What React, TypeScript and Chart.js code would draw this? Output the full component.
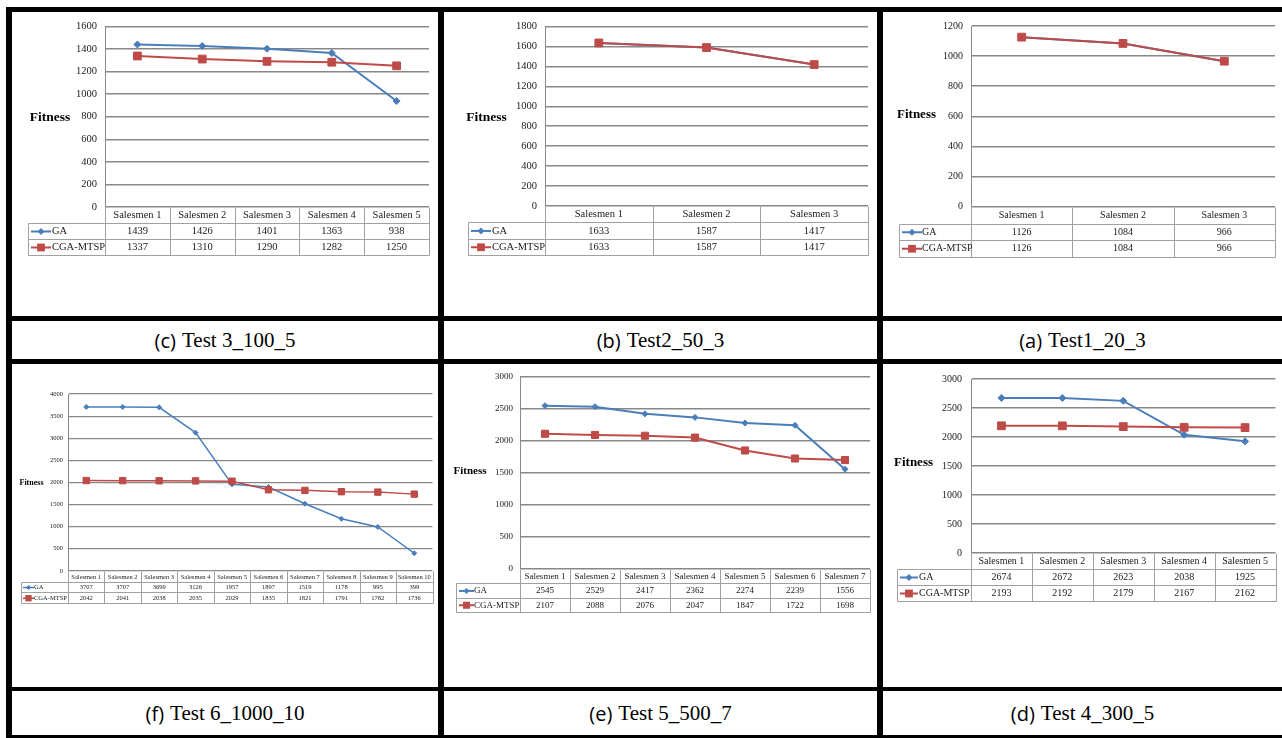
import React, { useEffect, useRef } from 'react';
import { Chart, registerables } from 'chart.js';

Chart.register(...registerables);

// ---------------- DATA ----------------
const seriesNames = ['GA', 'CGA-MTSP'];

// (c) Test 3_100_5
const catsC = ['Salesmen 1', 'Salesmen 2', 'Salesmen 3', 'Salesmen 4', 'Salesmen 5'];
const gaC = [1439, 1426, 1401, 1363, 938];
const cgaC = [1337, 1310, 1290, 1282, 1250];
const yMaxC = 1600;
const yStepC = 200;

// (b) Test2_50_3
const catsB = ['Salesmen 1', 'Salesmen 2', 'Salesmen 3'];
const gaB = [1633, 1587, 1417];
const cgaB = [1633, 1587, 1417];
const yMaxB = 1800;
const yStepB = 200;

// (a) Test1_20_3
const catsA = ['Salesmen 1', 'Salesmen 2', 'Salesmen 3'];
const gaA = [1126, 1084, 966];
const cgaA = [1126, 1084, 966];
const yMaxA = 1200;
const yStepA = 200;

// (f) Test 6_1000_10
const catsF = ['Salesmen 1', 'Salesmen 2', 'Salesmen 3', 'Salesmen 4', 'Salesmen 5', 'Salesmen 6', 'Salesmen 7', 'Salesmen 8', 'Salesmen 9', 'Salesmen 10'];
const gaF = [3707, 3707, 3699, 3126, 1957, 1897, 1519, 1178, 995, 399];
const cgaF = [2042, 2041, 2038, 2035, 2029, 1835, 1821, 1791, 1782, 1736];
const yMaxF = 4000;
const yStepF = 500;

// (e) Test 5_500_7
const catsE = ['Salesmen 1', 'Salesmen 2', 'Salesmen 3', 'Salesmen 4', 'Salesmen 5', 'Salesmen 6', 'Salesmen 7'];
const gaE = [2545, 2529, 2417, 2362, 2274, 2239, 1556];
const cgaE = [2107, 2088, 2076, 2047, 1847, 1722, 1698];
const yMaxE = 3000;
const yStepE = 500;

// (d) Test 4_300_5
const catsD = ['Salesmen 1', 'Salesmen 2', 'Salesmen 3', 'Salesmen 4', 'Salesmen 5'];
const gaD = [2674, 2672, 2623, 2038, 1925];
const cgaD = [2193, 2192, 2179, 2167, 2162];
const yMaxD = 3000;
const yStepD = 500;

const captions = {
  c: ['(c)', 'Test 3_100_5'],
  b: ['(b)', 'Test2_50_3'],
  a: ['(a)', 'Test1_20_3'],
  f: ['(f)', 'Test 6_1000_10'],
  e: ['(e)', 'Test 5_500_7'],
  d: ['(d)', 'Test 4_300_5'],
};

// ---------------- STYLE ----------------
const BLUE = '#4a7ebb';
const RED = '#be4b48';
const GRID = '#888888';
const TABLE_LINE = '#a0a0a0';
const TEXT = '#1a1a1a';
const SERIF = '"Liberation Serif", serif';

function drawMarker(ctx, style, x, y, r, color) {
  ctx.save();
  ctx.fillStyle = color;
  ctx.beginPath();
  if (style === 'rectRot') {
    ctx.moveTo(x - r, y);
    ctx.lineTo(x, y - r);
    ctx.lineTo(x + r, y);
    ctx.lineTo(x, y + r);
    ctx.closePath();
  } else {
    const s = Math.SQRT1_2 * r;
    ctx.rect(x - s, y - s, 2 * s, 2 * s);
  }
  ctx.fill();
  ctx.restore();
}

const tablePlugin = {
  id: 'dataTable',
  afterDraw(chart, _args, opts) {
    const { ctx, chartArea } = chart;
    const xs = chart.scales.x;
    const labels = chart.data.labels;
    const n = labels.length;
    const left = chartArea.left;
    const right = chartArea.right;
    const h = opts.rowH;
    const y0 = Math.round(chartArea.bottom);
    const L = opts.legendLeft;
    const bounds = [left];
    for (let i = 1; i < n; i++) {
      bounds.push((xs.getPixelForValue(i - 1) + xs.getPixelForValue(i)) / 2);
    }
    bounds.push(right);

    ctx.save();
    ctx.strokeStyle = TABLE_LINE;
    ctx.lineWidth = 1;
    const line = (x1, y1, x2, y2) => {
      ctx.beginPath();
      ctx.moveTo(Math.round(x1) + 0.5, Math.round(y1) + 0.5);
      ctx.lineTo(Math.round(x2) + 0.5, Math.round(y2) + 0.5);
      ctx.stroke();
    };
    for (let k = 1; k <= 3; k++) line(L, y0 + k * h, right, y0 + k * h);
    line(L, y0 + h, L, y0 + 3 * h);
    bounds.forEach((b) => line(b, y0, b, y0 + 3 * h));

    ctx.fillStyle = TEXT;
    ctx.font = `${opts.fontSize}px ${SERIF}`;
    ctx.textAlign = 'center';
    ctx.textBaseline = 'middle';
    for (let i = 0; i < n; i++) {
      const cx = xs.getPixelForValue(i);
      ctx.fillText(String(labels[i]), cx, y0 + h / 2 + 0.5);
    }
    const rows = opts.rowOrder;
    rows.forEach((di, r) => {
      const ds = chart.data.datasets[di];
      const cy = y0 + (r + 1) * h + h / 2 + 0.5;
      ctx.fillStyle = TEXT;
      ctx.textAlign = 'center';
      for (let i = 0; i < n; i++) {
        ctx.fillText(String(ds.data[i]), xs.getPixelForValue(i), cy);
      }
      const ix0 = L + opts.iconX;
      const ix1 = ix0 + opts.iconLen;
      ctx.strokeStyle = ds.borderColor;
      ctx.lineWidth = ds.borderWidth;
      ctx.beginPath();
      ctx.moveTo(ix0, cy);
      ctx.lineTo(ix1, cy);
      ctx.stroke();
      drawMarker(ctx, ds.pointStyle, (ix0 + ix1) / 2, cy, ds.pointRadius, ds.borderColor);
      ctx.fillStyle = TEXT;
      ctx.textAlign = 'left';
      ctx.fillText(ds.label, L + opts.textX, cy);
    });

    ctx.font = `bold ${opts.titleSize}px ${SERIF}`;
    ctx.textAlign = 'center';
    ctx.textBaseline = 'middle';
    ctx.fillStyle = '#000';
    ctx.fillText('Fitness', opts.titleX, opts.titleY);
    ctx.restore();
  },
};

type Cfg = {
  cats: string[];
  ga: number[];
  cga: number[];
  yMax: number;
  yStep: number;
  w: number;
  h: number;
  axisW: number;
  tickPad: number;
  padR: number;
  padT: number;
  padB: number;
  rowH: number;
  legendLeft: number;
  iconX: number;
  iconLen: number;
  textX: number;
  titleX: number;
  titleY: number;
  titleSize: number;
  fontSize: number;
  tickSize: number;
  lineW: number;
  gridW: number;
  rGA: number;
  rCGA: number;
};

function LineTableChart({ cfg }: { cfg: Cfg }) {
  const ref = useRef<HTMLCanvasElement>(null);
  useEffect(() => {
    const chart = new Chart(ref.current, {
      type: 'line',
      data: {
        labels: cfg.cats,
        datasets: [
          {
            label: seriesNames[0],
            data: cfg.ga,
            borderColor: BLUE,
            backgroundColor: BLUE,
            pointBackgroundColor: BLUE,
            pointBorderColor: BLUE,
            borderWidth: cfg.lineW,
            pointStyle: 'rectRot',
            pointRadius: cfg.rGA,
            pointBorderWidth: 1,
            tension: 0,
            order: 1,
          },
          {
            label: seriesNames[1],
            data: cfg.cga,
            borderColor: RED,
            backgroundColor: RED,
            pointBackgroundColor: RED,
            pointBorderColor: RED,
            borderWidth: cfg.lineW,
            pointStyle: 'rect',
            pointRadius: cfg.rCGA,
            pointBorderWidth: 1,
            tension: 0,
            order: 0,
          },
        ],
      },
      options: {
        responsive: false,
        animation: false,
        devicePixelRatio: 1,
        layout: { padding: { left: 0, right: cfg.padR, top: cfg.padT, bottom: cfg.padB } },
        plugins: {
          legend: { display: false },
          tooltip: { enabled: false },
          title: { display: false },
          dataTable: {
            rowH: cfg.rowH,
            legendLeft: cfg.legendLeft,
            iconX: cfg.iconX,
            iconLen: cfg.iconLen,
            textX: cfg.textX,
            titleX: cfg.titleX,
            titleY: cfg.titleY,
            titleSize: cfg.titleSize,
            fontSize: cfg.fontSize,
            rowOrder: [0, 1],
          },
        },
        scales: {
          x: {
            type: 'category',
            offset: true,
            ticks: { display: false },
            grid: { display: false, drawTicks: false },
            border: { display: false },
            afterFit: (s) => {
              s.height = cfg.rowH * 3;
            },
          },
          y: {
            min: 0,
            max: cfg.yMax,
            ticks: {
              stepSize: cfg.yStep,
              padding: cfg.tickPad,
              color: TEXT,
              font: { family: SERIF, size: cfg.tickSize },
              callback: (v) => String(v),
            },
            grid: { color: GRID, lineWidth: cfg.gridW, drawTicks: false },
            border: { display: true, color: GRID, width: 1 },
            afterFit: (s) => {
              s.width = cfg.axisW;
            },
          },
        },
      },
      plugins: [tablePlugin],
    });
    return () => chart.destroy();
  }, [cfg]);
  return <canvas ref={ref} width={cfg.w} height={cfg.h} style={{ display: 'block', width: cfg.w, height: cfg.h }} />;
}

// ---------------- LAYOUT ----------------
const COLS = [
  { x: 12, w: 426 },
  { x: 444, w: 433 },
  { x: 883, w: 399 },
];
const ROW1 = { y: 12, h: 304 };
const CAP1 = { y: 321, h: 38 };
const ROW2 = { y: 364, h: 323 };
const CAP2 = { y: 691, h: 44 };

const cfgC: Cfg = {
  cats: catsC, ga: gaC, cga: cgaC, yMax: yMaxC, yStep: yStepC,
  w: 426, h: 304, axisW: 93, tickPad: 8, padR: 9, padT: 8, padB: 61,
  rowH: 16, legendLeft: 16, iconX: 3, iconLen: 20, textX: 24,
  titleX: 38, titleY: 106, titleSize: 13.5, fontSize: 10.5, tickSize: 10.5,
  lineW: 2, gridW: 1.4, rGA: 3.5, rCGA: 5.5,
};
const cfgB: Cfg = {
  cats: catsB, ga: gaB, cga: cgaB, yMax: yMaxB, yStep: yStepB,
  w: 433, h: 304, axisW: 101, tickPad: 8, padR: 9, padT: 8, padB: 61,
  rowH: 16.3, legendLeft: 24, iconX: 3, iconLen: 20, textX: 24,
  titleX: 42.5, titleY: 106, titleSize: 13.5, fontSize: 10.5, tickSize: 10.5,
  lineW: 2, gridW: 1.4, rGA: 3.5, rCGA: 5.5,
};
const cfgA: Cfg = {
  cats: catsA, ga: gaA, cga: cgaA, yMax: yMaxA, yStep: yStepA,
  w: 399, h: 304, axisW: 88, tickPad: 8, padR: 7, padT: 7, padB: 60,
  rowH: 16.5, legendLeft: 16, iconX: 3, iconLen: 20, textX: 23,
  titleX: 33.5, titleY: 103, titleSize: 13, fontSize: 10, tickSize: 10,
  lineW: 2, gridW: 1.4, rGA: 3.5, rCGA: 5.5,
};
const cfgF: Cfg = {
  cats: catsF, ga: gaF, cga: cgaF, yMax: yMaxF, yStep: yStepF,
  w: 426, h: 323, axisW: 56, tickPad: 5, padR: 1, padT: 30, padB: 84,
  rowH: 10.7, legendLeft: 9, iconX: 2, iconLen: 11, textX: 13,
  titleX: 19.5, titleY: 119, titleSize: 8, fontSize: 6.5, tickSize: 6.5,
  lineW: 1.5, gridW: 1.2, rGA: 2.5, rCGA: 4.5,
};
const cfgE: Cfg = {
  cats: catsE, ga: gaE, cga: cgaE, yMax: yMaxE, yStep: yStepE,
  w: 433, h: 323, axisW: 76, tickPad: 7, padR: 7, padT: 8, padB: 75,
  rowH: 14.3, legendLeft: 12, iconX: 3, iconLen: 15, textX: 18,
  titleX: 26, titleY: 107, titleSize: 11, fontSize: 9, tickSize: 9,
  lineW: 2, gridW: 1.4, rGA: 3, rCGA: 5,
};
const cfgD: Cfg = {
  cats: catsD, ga: gaD, cga: cgaD, yMax: yMaxD, yStep: yStepD,
  w: 399, h: 323, axisW: 88, tickPad: 9, padR: 6, padT: 8, padB: 86,
  rowH: 16, legendLeft: 14, iconX: 3, iconLen: 18, textX: 22,
  titleX: 30.5, titleY: 99, titleSize: 13, fontSize: 10, tickSize: 10,
  lineW: 2, gridW: 1.4, rGA: 3.5, rCGA: 5.5,
};

const topRow = [
  { cfg: cfgC, cap: captions.c },
  { cfg: cfgB, cap: captions.b },
  { cfg: cfgA, cap: captions.a },
];
const bottomRow = [
  { cfg: cfgF, cap: captions.f },
  { cfg: cfgE, cap: captions.e },
  { cfg: cfgD, cap: captions.d },
];

function Caption({ cap }: { cap: string[] }) {
  return (
    <div style={{ display: 'flex', alignItems: 'center', justifyContent: 'center', width: '100%', height: '100%', color: '#000' }}>
      <span style={{ fontFamily: '"Open Sans", sans-serif', fontSize: 20 }}>{cap[0]}</span>
      <span style={{ fontFamily: '"Liberation Serif", serif', fontSize: 21, marginLeft: 6 }}>{cap[1]}</span>
    </div>
  );
}

export default function App() {
  const abs = (x, y, w, h, extra = {}) => ({ position: 'absolute' as const, left: x, top: y, width: w, height: h, ...extra });
  return (
    <div style={{ position: 'absolute', left: 0, top: 0, width: 1282, height: 738, background: '#fff', overflow: 'hidden' }}>
      <div style={abs(6, 7, 1276, 731, { background: '#000' })} />
      {topRow.map((c, i) => (
        <React.Fragment key={'t' + i}>
          <div style={abs(COLS[i].x, ROW1.y, COLS[i].w, ROW1.h, { background: '#fff' })}>
            <LineTableChart cfg={c.cfg} />
          </div>
          <div style={abs(COLS[i].x, CAP1.y, COLS[i].w, CAP1.h, { background: '#fff' })}>
            <Caption cap={c.cap} />
          </div>
        </React.Fragment>
      ))}
      {bottomRow.map((c, i) => (
        <React.Fragment key={'b' + i}>
          <div style={abs(COLS[i].x, ROW2.y, COLS[i].w, ROW2.h, { background: '#fff' })}>
            <LineTableChart cfg={c.cfg} />
          </div>
          <div style={abs(COLS[i].x, CAP2.y, COLS[i].w, CAP2.h, { background: '#fff' })}>
            <Caption cap={c.cap} />
          </div>
        </React.Fragment>
      ))}
    </div>
  );
}
